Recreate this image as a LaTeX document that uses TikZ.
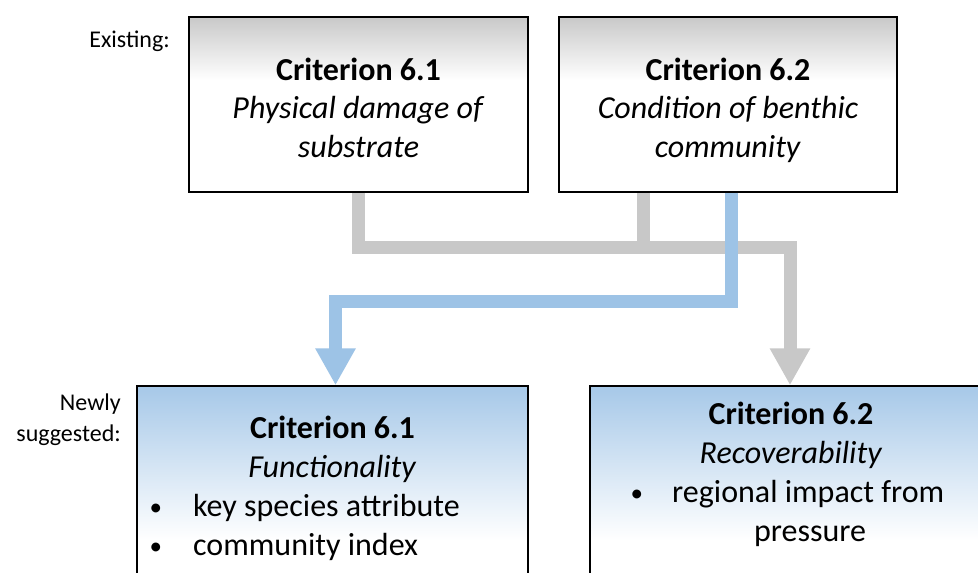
\documentclass[tikz,border=0pt]{standalone}
\usepackage{fontspec}
\setmainfont{Carlito}
\usetikzlibrary{arrows.meta,calc,backgrounds}

\definecolor{connGray}{HTML}{C8C8C8}
\definecolor{connBlue}{HTML}{9DC3E6}
\definecolor{headGray}{HTML}{C8C8C8}
\definecolor{headBlue}{HTML}{A6C8E8}

% bullet mark for the lists inside the new boxes
\newcommand{\listdot}[1]{\makebox[#1][l]{\hspace*{1.5pt}\raisebox{1pt}{\fontsize{25}{38}\selectfont •}}}

\tikzset{
  critbox/.style={draw=black, line width=1.5pt, inner sep=0pt},
  oldbox/.style={critbox, minimum height=175pt},
  newbox/.style={critbox, minimum height=240pt},
  grayfade/.style={top color=headGray, bottom color=white},
  bluefade/.style={top color=headBlue, bottom color=white},
  line/.style={anchor=base, inner sep=0pt, font=\fontsize{32}{38}\selectfont},
  side/.style={anchor=base east, inner sep=0pt, font=\fontsize{24}{29}\selectfont},
  conn/.style={line width=13pt, line join=miter},
  tip/.style={-{Triangle[length=37pt,width=38pt]}},
  grayconn/.style={conn, draw=connGray},
  blueconn/.style={conn, draw=connBlue},
}

\begin{document}
\begin{tikzpicture}[x=1pt,y=1pt]
\clip (0,0) rectangle (978,-573);

% existing criteria
\node[oldbox, minimum width=339pt] (old61) at (358.5,-104.5) {};
\node[oldbox, minimum width=338pt] (old62) at (728,-104.5) {};

% newly suggested criteria
\node[newbox, minimum width=391pt] (new61) at (332.5,-506) {};
\node[newbox, minimum width=400pt] (new62) at (790,-506) {};

% white page and the fading tops of the boxes
\begin{scope}[on background layer]
  \fill[white] (0,0) rectangle (978,-573);
  \shade[grayfade] (old61.north west) rectangle ([yshift=-64pt]old61.north east);
  \shade[grayfade] (old62.north west) rectangle ([yshift=-64pt]old62.north east);
  \shade[bluefade] (new61.north west) rectangle ([yshift=-155pt]new61.north east);
  \shade[bluefade] (new62.north west) rectangle ([yshift=-155pt]new62.north east);
\end{scope}

% row labels
\node[side] (lblold) at (170,-47) {Existing:};
\node[side] (lblnew1) at (121,-410.5) {Newly};
\node[side] (lblnew2) at (121,-441) {suggested:};

% text of the existing boxes
\node[line] (o1a) at (358.5,-80) {\textbf{Criterion 6.1}};
\node[line] (o1b) at (358.5,-118.5) {\textit{Physical damage of}};
\node[line] (o1c) at (358.5,-157.5) {\textit{substrate}};
\node[line] (o2a) at (728,-80) {\textbf{Criterion 6.2}};
\node[line] (o2b) at (728,-118.5) {\textit{Condition of benthic}};
\node[line] (o2c) at (728,-157.5) {\textit{community}};

% text of the new boxes
\node[line] (n1a) at (332.5,-438) {\textbf{Criterion 6.1}};
\node[line] (n1b) at (332.5,-477) {\textit{Functionality}};
\node[line, anchor=base west] (n1c) at (148,-516)
  {\listdot{45pt}key species attribute};
\node[line, anchor=base west] (n1d) at (148,-555.5)
  {\listdot{45pt}community index};
\node[line] (n2a) at (791,-424.5) {\textbf{Criterion 6.2}};
\node[line] (n2b) at (791,-463.5) {\textit{Recoverability}};
\node[line, anchor=base west] (n2c) at (629,-502.5)
  {\listdot{43pt}regional impact from};
\node[line] (n2d) at (810,-541.5) {pressure};

% grey connectors: both existing criteria feed the new 6.2
\coordinate (jgray) at ([yshift=-55pt]old61.south);
\draw[grayconn] ([xshift=-85pt]old62.south) -- ([xshift=-85pt]old62.south |- jgray);
\draw[grayconn, tip] (old61.south) -- (jgray) -| (new62.north);

% blue connector: existing 6.2 feeds the new 6.1
\coordinate (jblue) at ([xshift=3.5pt,yshift=-109pt]old62.south);
\draw[blueconn, tip] ([xshift=3.5pt]old62.south) -- (jblue) -| ([xshift=3pt]new61.north);
\end{tikzpicture}
\end{document}
